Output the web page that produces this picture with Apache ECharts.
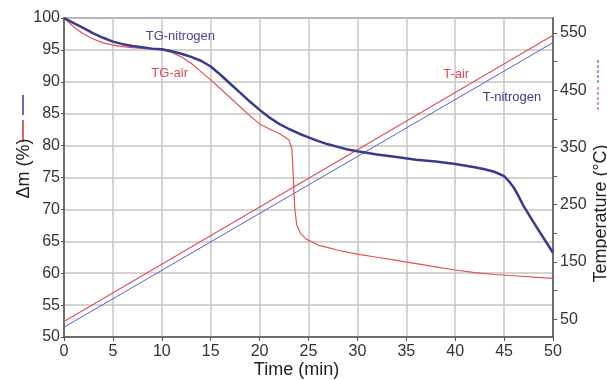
<!DOCTYPE html>
<html lang="en">
<head>
  <meta charset="UTF-8">
  <title>TG curves</title>
  <script src="https://cdn.jsdelivr.net/npm/echarts@6/dist/echarts.min.js"></script>
  <style>
    body { margin: 0; padding: 0; background: #fff; }
  </style>
</head>
<body>
  <div id="chart" style="width: 607px; height: 380px;"></div>
  <script>
    // time (min) / mass loss (%)
    var tgNitrogenTime = [0, 1, 2, 3, 4, 5, 6, 7, 8, 9, 10, 11, 12, 13, 14, 15, 16, 17, 18, 19, 20, 21, 22, 23, 24, 25, 26, 27, 28, 29, 30, 32, 34, 36, 38, 40, 42, 43, 44, 45, 45.5, 46, 46.5, 47, 48, 49, 50];
    var tgNitrogenMass = [100, 99.2, 98.4, 97.6, 96.9, 96.3, 95.9, 95.6, 95.4, 95.2, 95.1, 94.8, 94.4, 93.9, 93.3, 92.4, 91.1, 89.7, 88.3, 86.9, 85.6, 84.4, 83.4, 82.6, 81.9, 81.3, 80.7, 80.2, 79.8, 79.4, 79.1, 78.6, 78.2, 77.8, 77.5, 77.1, 76.6, 76.3, 75.9, 75.2, 74.4, 73.4, 72.0, 70.5, 68.0, 65.6, 63.2];

    var tgAirTime = [0, 1, 2, 3, 4, 5, 6, 7, 8, 9, 10, 11, 12, 13, 14, 15, 16, 17, 18, 19, 20, 21, 22, 23, 23.3, 23.45, 23.6, 23.8, 24.2, 24.8, 25.5, 26, 27, 28, 30, 32, 34, 36, 38, 40, 42, 44, 46, 48, 50];
    var tgAirMass = [100, 98.6, 97.5, 96.7, 96.1, 95.75, 95.5, 95.35, 95.25, 95.1, 95.0, 94.6, 93.9, 92.9, 91.6, 90.3, 88.9, 87.5, 86.1, 84.7, 83.4, 82.6, 81.9, 80.9, 79.5, 75.0, 70.0, 67.6, 66.2, 65.3, 64.8, 64.4, 64.0, 63.6, 63.0, 62.5, 62.0, 61.5, 61.0, 60.5, 60.1, 59.8, 59.6, 59.4, 59.2];

    // temperature programme (°C), start and end of each run
    var tAirTime = [0, 50];
    var tAirTemp = [46, 546];
    var tNitrogenTime = [0, 50];
    var tNitrogenTemp = [36, 533];

    var tempTicks = [50, 100, 150, 200, 250, 300, 350, 400, 450, 500, 550];
    var tempLabels = [50, 150, 250, 350, 450, 550];

    function pairs(xs, ys) {
      return xs.map(function (x, i) { return [x, ys[i]]; });
    }

    function note(text, color, coord) {
      return {
        symbol: 'circle',
        symbolSize: 1,
        itemStyle: { color: 'rgba(0,0,0,0)' },
        label: { show: true, position: 'inside', formatter: text, color: color, fontSize: 13, fontFamily: font },
        data: [{ coord: coord }]
      };
    }

    var font = 'Liberation Sans, Arial, sans-serif';
    var navy = '#3a3a8c';
    var red = '#e0474f';

    var chart = echarts.init(document.getElementById('chart'));
    var option = {
      backgroundColor: '#fff',
      animation: false,
      textStyle: { fontFamily: font },
      grid: {
        left: 64, right: 54, top: 18, bottom: 43,
        outerBoundsMode: 'none',
        containLabel: false,
        show: true, borderColor: '#666', borderWidth: 1.5, backgroundColor: '#fff'
      },
      xAxis: {
        type: 'value',
        min: 0, max: 50, interval: 5,
        name: 'Time (min)',
        nameLocation: 'middle',
        nameGap: 24,
        nameMoveOverlap: false,
        nameTextStyle: { fontSize: 18, color: '#222', padding: [0, 24, 0, 0] },
        axisLine: { lineStyle: { color: '#555', width: 1.5 } },
        axisTick: { show: true, length: 4, lineStyle: { color: '#555' } },
        axisLabel: { fontSize: 16, color: '#333', margin: 7 },
        splitLine: { show: true, lineStyle: { color: '#c4c4c4', width: 1.5 } }
      },
      yAxis: [
        {
          type: 'value',
          min: 50, max: 100, interval: 5,
          name: 'Δm (%)',
          nameLocation: 'middle',
          nameRotate: 90,
          nameGap: 31,
          nameMoveOverlap: false,
          nameTextStyle: { fontSize: 18, color: '#222', padding: [0, 0, 0, 18] },
          axisLine: { show: true, lineStyle: { color: '#555', width: 1.5 } },
          axisTick: { show: true, length: 3, lineStyle: { color: '#555' } },
          axisLabel: { fontSize: 16, color: '#333', margin: 4 },
          splitLine: { show: true, lineStyle: { color: '#c4c4c4', width: 1.5 } }
        },
        {
          type: 'value',
          position: 'right',
          min: 19, max: 576,
          name: 'Temperature (°C)',
          nameLocation: 'middle',
          nameRotate: 90,
          nameGap: 39,
          nameMoveOverlap: false,
          nameTextStyle: { fontSize: 18, color: '#222', padding: [0, 72, 0, 0] },
          axisLine: { show: true, lineStyle: { color: '#555', width: 1.5 } },
          axisTick: { show: true, length: 4, customValues: tempTicks, lineStyle: { color: '#555' } },
          axisLabel: { fontSize: 16, color: '#333', margin: 7, customValues: tempLabels },
          splitLine: { show: false }
        }
      ],
      graphic: [
        { type: 'line', shape: { x1: 23, y1: 95, x2: 23, y2: 115 }, style: { stroke: '#6a68b4', lineWidth: 2 } },
        { type: 'line', shape: { x1: 23, y1: 120, x2: 23, y2: 142 }, style: { stroke: '#e0606a', lineWidth: 2 } },
        { type: 'line', shape: { x1: 598, y1: 60, x2: 598, y2: 85 }, style: { stroke: '#7a7ac4', lineWidth: 1.5, lineDash: [3, 2] } },
        { type: 'line', shape: { x1: 598, y1: 87, x2: 598, y2: 110 }, style: { stroke: '#e07080', lineWidth: 1.5, lineDash: [3, 2] } }
      ],
      series: [
        {
          name: 'T-nitrogen',
          type: 'line',
          yAxisIndex: 1,
          showSymbol: false,
          data: pairs(tNitrogenTime, tNitrogenTemp),
          lineStyle: { color: '#5c5cc8', width: 1 },
          markPoint: note('T-nitrogen', navy, [45.8, 437])
        },
        {
          name: 'T-air',
          type: 'line',
          yAxisIndex: 1,
          showSymbol: false,
          data: pairs(tAirTime, tAirTemp),
          lineStyle: { color: '#e0505a', width: 1.2 },
          markPoint: note('T-air', red, [40.1, 478])
        },
        {
          name: 'TG-air',
          type: 'line',
          showSymbol: false,
          data: pairs(tgAirTime, tgAirMass),
          lineStyle: { color: '#e65058', width: 1.2 },
          markPoint: note('TG-air', red, [10.8, 91.3])
        },
        {
          name: 'TG-nitrogen',
          type: 'line',
          showSymbol: false,
          data: pairs(tgNitrogenTime, tgNitrogenMass),
          lineStyle: { color: navy, width: 2.5 },
          markPoint: note('TG-nitrogen', '#4a3f96', [11.9, 97.1])
        }
      ]
    };
    chart.setOption(option);
  </script>
</body>
</html>
